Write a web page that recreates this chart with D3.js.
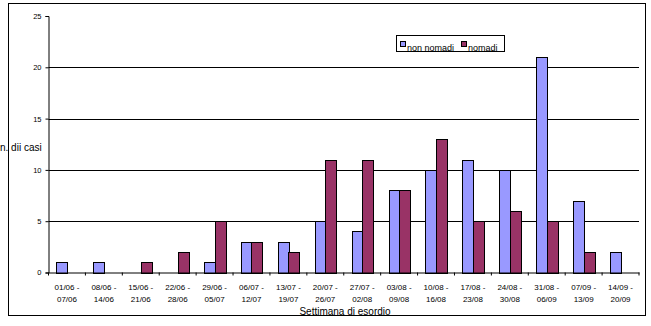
<!DOCTYPE html>
<html><head><meta charset="utf-8">
<script src="https://cdn.jsdelivr.net/npm/d3@7"></script>
<style>body{margin:0;background:#fff}svg{display:block;font-family:"Liberation Sans",Arial,sans-serif}</style>
</head><body><svg id="c" width="651" height="326"></svg>
<script>
const categories = ["01/06 -|07/06","08/06 -|14/06","15/06 -|21/06","22/06 -|28/06","29/06 -|05/07","06/07 -|12/07","13/07 -|19/07","20/07 -|26/07","27/07 -|02/08","03/08 -|09/08","10/08 -|16/08","17/08 -|23/08","24/08 -|30/08","31/08 -|06/09","07/09 -|13/09","14/09 -|20/09"];
const nonNomadi = [1,1,0,0,1,3,3,5,4,8,10,11,10,21,7,2];
const nomadi    = [0,0,1,2,5,3,2,11,11,8,13,5,6,5,2,0];
const seriesNames = ["non nomadi","nomadi"];
const yTicks = [0,5,10,15,20,25];
const colors = ["#9999FF","#993366"];

const svg = d3.select("#c");
svg.append("rect").attr("x",8.5).attr("y",3.5).attr("width",637).attr("height",312).attr("fill","none").attr("stroke","#000");

const L=48.5, R=639, T=16, B=272.5;
const x = d3.scaleBand().domain(categories).range([L,R]).paddingInner(0).paddingOuter(0);
const y = d3.scaleLinear().domain([0,25]).range([B,T]);
const inner = d3.scaleBand().domain([0,1]).range([0,x.bandwidth()]).paddingInner(0).paddingOuter(0.75);

// grid
svg.append("g").selectAll("line").data(yTicks.filter(v=>v>0&&v<25)).join("line")
  .attr("x1",L).attr("x2",R).attr("y1",d=>Math.round(y(d))+0.5).attr("y2",d=>Math.round(y(d))+0.5)
  .attr("stroke","#000").attr("stroke-width",1);

// bars
const series=[nonNomadi,nomadi];
series.forEach((s,si)=>{
  svg.append("g").selectAll("rect").data(s.map((v,i)=>({v,c:categories[i]}))).join("rect")
    .filter(d=>d.v>0)
    .attr("x",d=>Math.round(x(d.c)+inner(si))+0.5)
    .attr("y",d=>Math.round(y(d.v))+0.5)
    .attr("width",Math.round(inner.bandwidth()))
    .attr("height",d=>Math.round(y(0))-Math.round(y(d.v)))
    .attr("fill",colors[si]).attr("stroke","#000").attr("stroke-width",1);
});

// y axis
const ya = svg.append("g").attr("transform",`translate(${L},0)`)
  .call(d3.axisLeft(y).tickValues(yTicks).tickSize(3).tickPadding(4));
ya.select(".domain").attr("stroke","#000");
ya.selectAll("text").attr("font-size",7.5).attr("font-family","Liberation Sans, Arial, sans-serif");

// x axis
const xa = svg.append("g").attr("transform",`translate(0,${B})`)
  .call(d3.axisBottom(x).tickSize(0).tickFormat(""));
xa.select(".domain").attr("stroke","#000");
const bounds = categories.map(c=>x(c)).concat([R]);
xa.selectAll(".bt").data(bounds).join("line").attr("class","bt")
  .attr("x1",d=>d).attr("x2",d=>d).attr("y1",0).attr("y2",3).attr("stroke","#000");
const xl = svg.append("g").selectAll("text").data(categories).join("text")
  .attr("x",d=>x(d)+x.bandwidth()/2).attr("y",290).attr("text-anchor","middle")
  .attr("font-size",8);
xl.each(function(d){
  const parts=d.split("|");
  const t=d3.select(this);
  parts.forEach((p,i)=>t.append("tspan").attr("x",x(d)+x.bandwidth()/2).attr("dy",i?11.5:0).text(p));
});

// titles
svg.append("text").attr("x",345).attr("y",315).attr("text-anchor","middle").attr("font-size",10).text("Settimana di esordio");
svg.append("text").attr("x",0).attr("y",151).attr("font-size",10).text("n. dii casi");

// legend
const lg = svg.append("g");
lg.append("rect").attr("x",396.5).attr("y",35.5).attr("width",108).attr("height",16).attr("fill","#fff").attr("stroke","#000");
const lx=[400,461];
seriesNames.forEach((n,i)=>{
  lg.append("rect").attr("x",lx[i]+0.5).attr("y",41.5).attr("width",5).attr("height",5).attr("fill",colors[i]).attr("stroke","#000");
  lg.append("text").attr("x",lx[i]+7).attr("y",50.5).attr("font-size",9).text(n);
});
</script></body></html>
